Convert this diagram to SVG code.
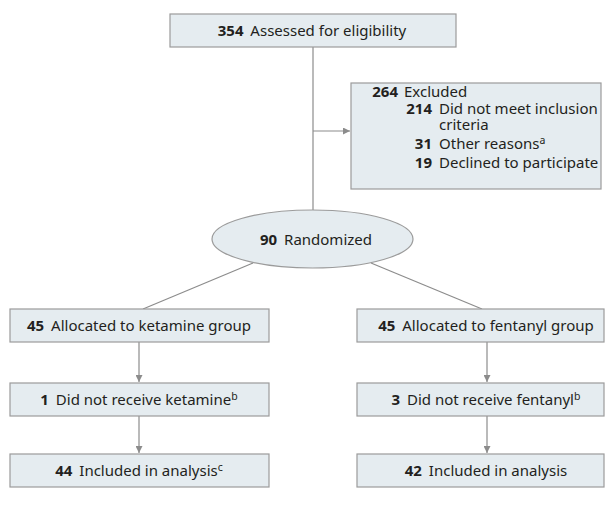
<svg xmlns="http://www.w3.org/2000/svg" width="605" height="508" viewBox="0 0 605 508">
<style>
  .box { fill: #e5ecf0; stroke: #9b9b9b; stroke-width: 1.2; }
  .t { font-family: "Noto Sans", "Liberation Sans", sans-serif; font-size: 15px; fill: #231f20; }
  .c { text-anchor: middle; }
  .e { text-anchor: end; }
  .b { font-weight: bold; }
  .sup { font-size: 10.5px; }
  .ln { stroke: #8c8c8c; stroke-width: 1.2; fill: none; }
</style>
<defs>
  <marker id="arr" viewBox="0 0 10 10" refX="10" refY="5" markerWidth="7" markerHeight="7" markerUnits="userSpaceOnUse" orient="auto">
    <path d="M0,0 L10,5 L0,10 z" fill="#8c8c8c"/>
  </marker>
</defs>
<g id="connectors">
  <line class="ln" x1="313" y1="47" x2="313" y2="210"/>
  <line class="ln" x1="313" y1="131" x2="350" y2="131" marker-end="url(#arr)"/>
  <line class="ln" x1="253" y1="263" x2="143" y2="309"/>
  <line class="ln" x1="371" y1="263" x2="482" y2="309"/>
  <line class="ln" x1="139" y1="342" x2="139" y2="382" marker-end="url(#arr)"/>
  <line class="ln" x1="139" y1="416" x2="139" y2="453" marker-end="url(#arr)"/>
  <line class="ln" x1="487" y1="342" x2="487" y2="382" marker-end="url(#arr)"/>
  <line class="ln" x1="487" y1="416" x2="487" y2="453" marker-end="url(#arr)"/>
</g>
<g id="assessed">
  <rect class="box" x="170" y="14" width="286" height="33"/>
  <text class="t c" x="312" y="36"><tspan class="b">354</tspan><tspan dx="3"> Assessed for eligibility</tspan></text>
</g>
<g id="excluded">
  <rect class="box" x="351" y="83" width="250" height="106"/>
  <text class="t e b" x="398" y="97">264</text>
  <text class="t" x="404" y="97">Excluded</text>
  <text class="t e b" x="432" y="114">214</text>
  <text class="t" x="439" y="114">Did not meet inclusion</text>
  <text class="t" x="439" y="130">criteria</text>
  <text class="t e b" x="432" y="149">31</text>
  <text class="t" x="439" y="149">Other reasons<tspan class="sup" dy="-5">a</tspan></text>
  <text class="t e b" x="432" y="168">19</text>
  <text class="t" x="439" y="168">Declined to participate</text>
</g>
<g id="randomized">
  <ellipse class="box" cx="312.5" cy="239" rx="100.5" ry="29"/>
  <text class="t c" x="316" y="245"><tspan class="b">90</tspan><tspan dx="3"> Randomized</tspan></text>
</g>
<g id="ketamine-allocated">
  <rect class="box" x="10" y="309" width="259" height="33"/>
  <text class="t c" x="139" y="331"><tspan class="b">45</tspan><tspan dx="3"> Allocated to ketamine group</tspan></text>
</g>
<g id="ketamine-not-received">
  <rect class="box" x="10" y="383" width="259" height="33"/>
  <text class="t c" x="139" y="405"><tspan class="b">1</tspan><tspan dx="3"> Did not receive ketamine</tspan><tspan class="sup" dy="-5">b</tspan></text>
</g>
<g id="ketamine-analyzed">
  <rect class="box" x="10" y="454" width="259" height="33"/>
  <text class="t c" x="139" y="476"><tspan class="b">44</tspan><tspan dx="3"> Included in analysis</tspan><tspan class="sup" dy="-5">c</tspan></text>
</g>
<g id="fentanyl-allocated">
  <rect class="box" x="357" y="309" width="247" height="33"/>
  <text class="t c" x="486" y="331"><tspan class="b">45</tspan><tspan dx="3"> Allocated to fentanyl group</tspan></text>
</g>
<g id="fentanyl-not-received">
  <rect class="box" x="357" y="383" width="247" height="33"/>
  <text class="t c" x="486" y="405"><tspan class="b">3</tspan><tspan dx="3"> Did not receive fentanyl</tspan><tspan class="sup" dy="-5">b</tspan></text>
</g>
<g id="fentanyl-analyzed">
  <rect class="box" x="357" y="454" width="247" height="33"/>
  <text class="t c" x="486" y="476"><tspan class="b">42</tspan><tspan dx="3"> Included in analysis</tspan></text>
</g>
</svg>
